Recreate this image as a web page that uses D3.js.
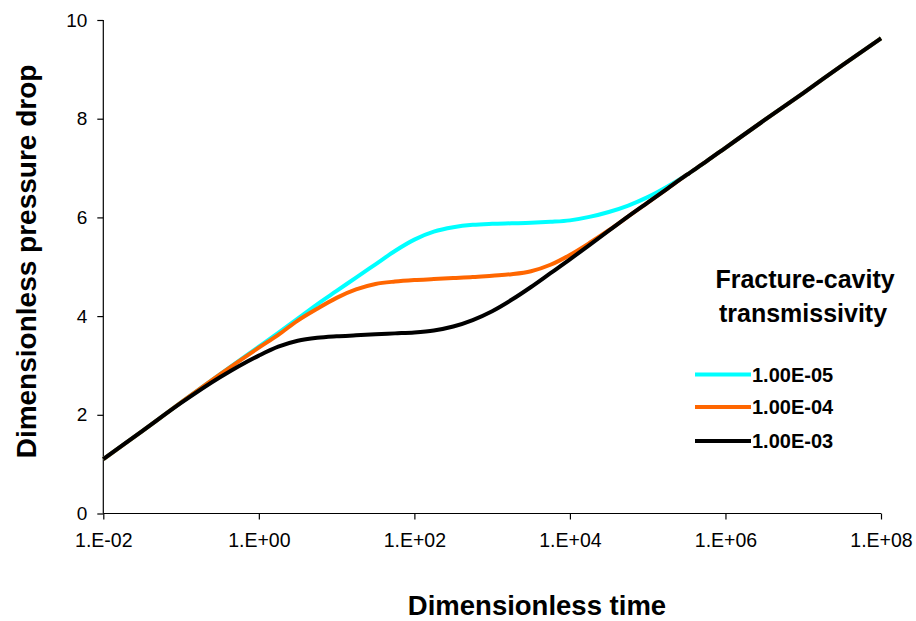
<!DOCTYPE html>
<html>
<head>
<meta charset="utf-8">
<script src="https://cdn.jsdelivr.net/npm/d3@7"></script>
<style>
  html, body { margin: 0; padding: 0; background: #fff; }
  svg { display: block; font-family: Arial, "Liberation Sans", sans-serif; }
</style>
</head>
<body>
<svg id="chart" width="916" height="621"></svg>
<script>
// ---- data (log10 of dimensionless time, dimensionless pressure drop) ----
const logTime = [-2, -1.5, -1, -0.5, 0, 0.25, 0.5, 0.75, 1, 1.25, 1.5, 1.75, 2, 2.25, 2.5, 2.75, 3, 3.25, 3.5, 3.75, 4, 4.25, 4.5, 4.75, 5, 5.25, 5.5, 5.75, 6, 6.5, 7, 7.5, 8];
const pd_1e5 = [1.10, 1.67, 2.25, 2.82, 3.38, 3.66, 3.95, 4.24, 4.51, 4.78, 5.05, 5.32, 5.55, 5.71, 5.80, 5.85, 5.87, 5.88, 5.89, 5.91, 5.94, 6.01, 6.11, 6.24, 6.41, 6.62, 6.86, 7.13, 7.41, 7.97, 8.52, 9.08, 9.63];
const pd_1e4 = [1.10, 1.67, 2.25, 2.82, 3.36, 3.62, 3.91, 4.15, 4.37, 4.54, 4.65, 4.70, 4.73, 4.75, 4.77, 4.79, 4.82, 4.85, 4.91, 5.04, 5.24, 5.48, 5.74, 6.02, 6.30, 6.58, 6.86, 7.13, 7.41, 7.97, 8.52, 9.08, 9.63];
const pd_1e3 = [1.10, 1.67, 2.24, 2.76, 3.20, 3.38, 3.50, 3.56, 3.59, 3.61, 3.63, 3.65, 3.67, 3.71, 3.79, 3.92, 4.10, 4.33, 4.59, 4.87, 5.15, 5.44, 5.73, 6.02, 6.30, 6.58, 6.86, 7.13, 7.41, 7.97, 8.52, 9.08, 9.63];
const seriesNames = ["1.00E-05", "1.00E-04", "1.00E-03"];
const seriesColors = ["#00FFFF", "#FF6600", "#000000"];
const xTickValues = [1e-2, 1e0, 1e2, 1e4, 1e6, 1e8];
const xTickLabels = ["1.E-02", "1.E+00", "1.E+02", "1.E+04", "1.E+06", "1.E+08"];
const yTickValues = [0, 2, 4, 6, 8, 10];

const svg = d3.select("#chart");
const mLeft = 103.3, mRight = 881, mTop = 20, mBottom = 513.5;

const x = d3.scaleLog().domain([1e-2, 1e8]).range([mLeft, mRight]);
const y = d3.scaleLinear().domain([0, 10]).range([mBottom, mTop]);

// axes
const xAxis = d3.axisBottom(x).tickValues(xTickValues)
  .tickFormat((d, i) => xTickLabels[i]).tickSize(6).tickPadding(14);
const gx = svg.append("g").attr("transform", `translate(0,${mBottom})`).call(xAxis);
gx.selectAll("text").style("font-size", "19.5px").attr("fill", "#000");

const yAxis = d3.axisLeft(y).tickValues(yTickValues).tickSize(6).tickPadding(10);
const gy = svg.append("g").attr("transform", `translate(${mLeft},0)`).call(yAxis);
gy.selectAll("text").style("font-size", "19px").attr("fill", "#000");

[gx, gy].forEach(g => {
  g.select(".domain").attr("stroke", "#000").attr("stroke-width", 1.2);
  g.selectAll(".tick line").attr("stroke", "#000").attr("stroke-width", 1.2);
});
gx.select(".domain").attr("d", `M${mLeft},0H${mRight}`);
gy.select(".domain").attr("d", `M0,${mBottom}V${mTop}`);

// curves
const allSeries = [pd_1e5, pd_1e4, pd_1e3];
const line = d3.line()
  .x((d, i) => x(Math.pow(10, logTime[i])))
  .y(d => y(d))
  .curve(d3.curveMonotoneX);

allSeries.forEach((s, k) => {
  svg.append("path")
    .datum(s)
    .attr("fill", "none")
    .attr("stroke", seriesColors[k])
    .attr("stroke-width", 4)
    .attr("stroke-linejoin", "round")
    .attr("d", line);
});

// axis titles
svg.append("text")
  .attr("x", 537)
  .attr("y", 615)
  .attr("text-anchor", "middle")
  .style("font-size", "27.5px")
  .style("font-weight", "bold")
  .text("Dimensionless time");

svg.append("text")
  .attr("transform", `translate(36,261.5) rotate(-90)`)
  .attr("text-anchor", "middle")
  .style("font-size", "28px")
  .style("font-weight", "bold")
  .text("Dimensionless pressure drop");

// legend
svg.append("text")
  .attr("x", 805).attr("y", 288)
  .attr("text-anchor", "middle")
  .style("font-size", "25px").style("font-weight", "bold")
  .text("Fracture-cavity");
svg.append("text")
  .attr("x", 803).attr("y", 322)
  .attr("text-anchor", "middle")
  .style("font-size", "25px").style("font-weight", "bold")
  .text("transmissivity");

const legendY = [374.5, 407, 441];
seriesNames.forEach((name, k) => {
  svg.append("line")
    .attr("x1", 695).attr("x2", 751)
    .attr("y1", legendY[k]).attr("y2", legendY[k])
    .attr("stroke", seriesColors[k]).attr("stroke-width", 4);
  svg.append("text")
    .attr("x", 752).attr("y", legendY[k] + 7)
    .style("font-size", "20px").style("font-weight", "bold")
    .text(name);
});
</script>
</body>
</html>
